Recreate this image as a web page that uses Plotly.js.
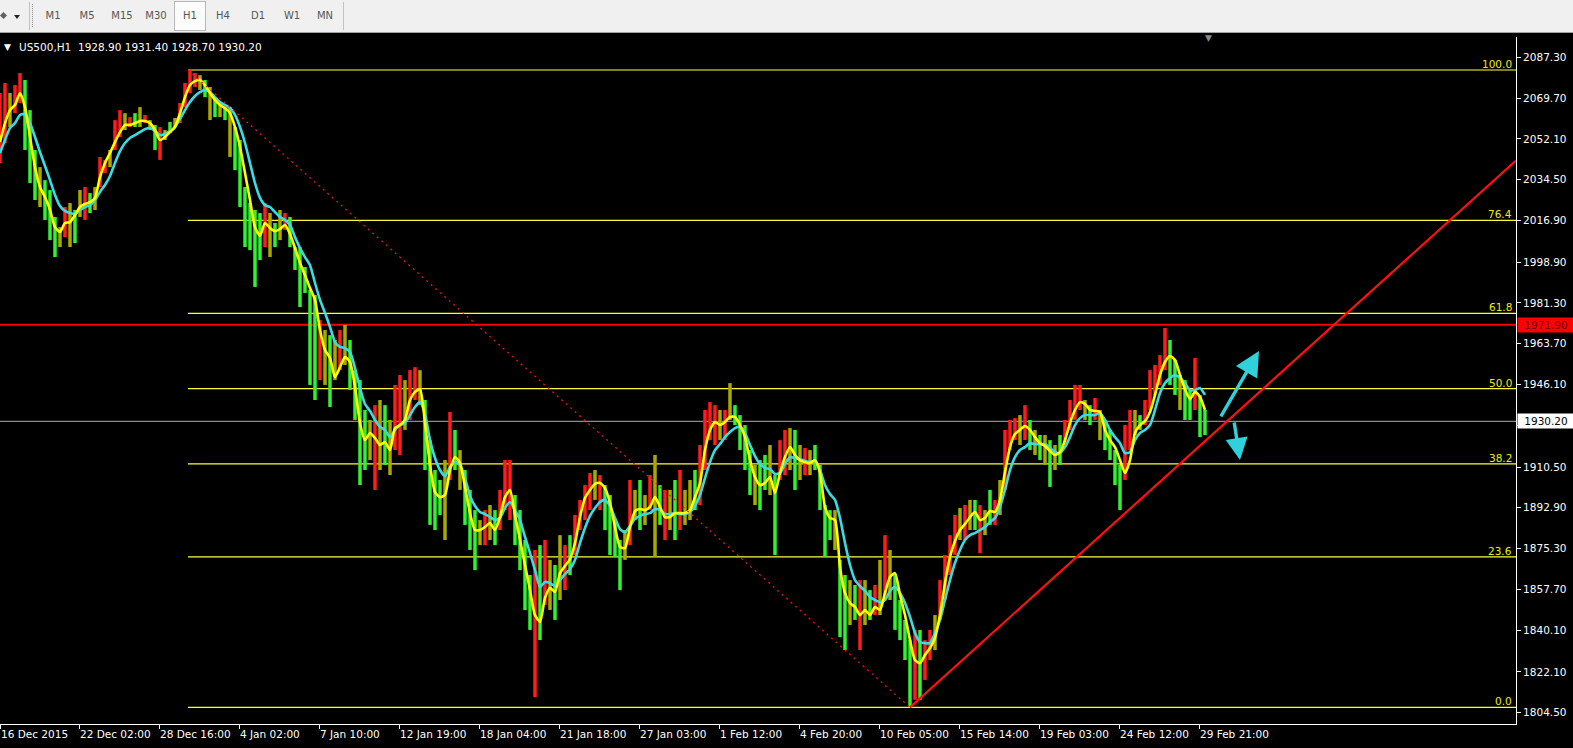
<!DOCTYPE html>
<html>
<head>
<meta charset="utf-8">
<title>US500,H1</title>
<script src="https://cdn.plot.ly/plotly-3.0.1.min.js"></script>
<style>
  html, body { margin:0; padding:0; width:1573px; height:748px; overflow:hidden; background:#000; }
  #toolbar { position:absolute; left:0; top:0; width:1573px; height:32px; background:#f0f0f0;
             border-bottom:1px solid #a0a0a0; font-family:"DejaVu Sans", sans-serif; font-size:10px; color:#555; }
  #toolbar .tf { position:absolute; top:10px; transform:translateX(-50%); white-space:nowrap; }
  #toolbar .active { position:absolute; left:174px; top:1px; width:30px; height:28px; background:#fbfbfb; border:1px solid #b8b8b8; }
  #toolbar .sep { position:absolute; top:2px; width:1px; height:28px; background:#c2c2c2; }
  #toolbar .grip { position:absolute; left:32px; top:4px; width:1px; height:24px;
                   background-image:linear-gradient(#8c8c8c 50%, transparent 50%); background-size:1px 2px; }
  #toolbar .icon { position:absolute; left:1px; top:13px; width:5px; height:5px; background:#606060; transform:rotate(45deg); }
  #toolbar .drop { position:absolute; left:14px; top:15px; width:0; height:0;
                   border-left:3px solid transparent; border-right:3px solid transparent; border-top:4px solid #222; }
  #chart { position:absolute; left:0; top:33px; width:1573px; height:715px; }
</style>
</head>
<body>
<div id="toolbar">
  <div class="icon"></div>
  <div class="drop"></div>
  <div class="sep" style="left:29px"></div>
  <div class="grip"></div>
  <div class="active"></div>
  <div class="sep" style="left:343px"></div>
</div>
<div id="chart"></div>
<script>
// ---- timeframe buttons ----
const TIMEFRAMES = ['M1', 'M5', 'M15', 'M30', 'H1', 'H4', 'D1', 'W1', 'MN'];
const TF_CENTERS = [53, 87, 122, 156, 190, 223, 258, 292, 325];
const bar = document.getElementById('toolbar');
TIMEFRAMES.forEach((t, i) => {
  const s = document.createElement('span');
  s.className = 'tf';
  s.style.left = TF_CENTERS[i] + 'px';
  s.textContent = t;
  bar.appendChild(s);
});

// ---- price data: one sample every 5 hourly bars ----
const STEP = 5;
const HIGH = [
  2071.9,2076.2,2071.9,2075.3,2080.5,2077.5,2064.5,2047.3,2039.9,2034.3,
  2030.0,2018.4,2014.0,2022.7,2024.4,2021.4,2030.0,2031.3,2028.7,2031.3,
  2044.3,2043.0,2047.3,2060.2,2064.5,2063.2,2061.5,2063.2,2065.8,2062.4,
  2060.2,2058.1,2057.2,2055.9,2059.4,2061.1,2067.6,2076.2,2081.8,2080.5,
  2079.6,2077.5,2074.5,2068.9,2067.6,2065.8,2065.8,2057.2,2051.6,2031.3,
  2024.4,2021.4,2020.1,2024.4,2020.1,2015.8,2021.4,2020.1,2018.4,2005.4,
  2005.4,1996.8,1986.9,1984.7,1973.9,1969.6,1967.4,1965.3,1969.6,1971.8,
  1965.3,1952.3,1948.0,1935.1,1930.8,1937.2,1939.4,1937.2,1930.8,1945.9,
  1950.2,1948.0,1952.3,1953.6,1952.3,1939.4,1922.1,1909.2,1904.9,1913.5,
  1934.2,1926.5,1917.8,1909.2,1900.6,1891.9,1887.6,1891.9,1894.1,1891.9,
  1900.6,1913.5,1913.5,1898.4,1891.9,1879.0,1863.9,1874.7,1876.8,1879.0,
  1870.4,1868.2,1881.1,1876.8,1881.1,1889.8,1896.3,1902.7,1907.9,1909.2,
  1907.0,1902.7,1898.4,1887.6,1879.0,1883.3,1904.9,1900.6,1904.9,1898.4,
  1907.0,1915.7,1902.7,1900.6,1900.6,1904.9,1909.2,1900.6,1904.9,1909.2,
  1920.0,1935.1,1938.5,1937.2,1935.1,1935.1,1946.7,1937.2,1932.9,1928.6,
  1917.8,1911.4,1913.5,1915.7,1920.0,1907.0,1922.1,1926.5,1927.3,1926.5,
  1920.0,1918.7,1917.8,1920.0,1911.4,1894.1,1891.9,1891.9,1870.4,1863.9,
  1861.7,1859.6,1861.7,1861.7,1857.4,1859.6,1870.4,1881.1,1874.7,1863.9,
  1853.1,1844.5,1835.8,1840.2,1840.2,1835.8,1840.2,1846.6,1861.7,1872.5,
  1881.1,1889.8,1892.8,1894.1,1896.3,1896.3,1894.1,1891.9,1900.6,1896.3,
  1904.9,1926.5,1930.8,1931.6,1932.9,1937.2,1930.8,1926.5,1924.3,1924.3,
  1922.1,1920.0,1924.3,1930.8,1939.4,1945.9,1945.9,1939.4,1937.2,1940.3,
  1935.1,1930.8,1926.5,1917.8,1911.4,1928.6,1935.1,1935.1,1932.9,1939.4,
  1952.3,1954.5,1958.8,1970.5,1965.3,1956.7,1950.2,1948.0,1943.7,1957.5,
  1941.6,1935.1
];
const LOW = [
  2041.7,2050.3,2057.2,2063.2,2067.6,2047.3,2033.0,2025.7,2022.7,2017.1,
  2008.4,2001.1,2005.4,2009.7,2005.4,2007.1,2018.4,2017.1,2020.1,2021.4,
  2031.3,2037.4,2039.9,2047.3,2052.9,2055.9,2057.2,2057.2,2057.2,2058.9,
  2055.9,2047.3,2043.0,2051.6,2054.6,2057.2,2058.9,2065.8,2071.9,2074.5,
  2073.2,2070.1,2060.2,2061.5,2061.5,2060.2,2044.3,2038.6,2022.7,2005.4,
  2004.1,1988.2,1999.8,2005.4,2001.1,2005.4,2008.4,2012.8,2005.4,1995.5,
  1979.5,1985.6,1945.9,1939.4,1948.0,1945.9,1936.4,1948.0,1952.3,1954.5,
  1943.7,1930.8,1902.7,1909.2,1913.5,1900.6,1909.2,1911.4,1907.0,1917.8,
  1915.7,1926.5,1930.8,1939.4,1937.2,1909.2,1885.5,1883.3,1889.8,1879.0,
  1904.9,1909.2,1900.6,1885.5,1874.7,1866.0,1876.8,1876.8,1879.0,1876.8,
  1883.3,1891.9,1887.6,1876.8,1866.0,1848.8,1840.2,1811.2,1835.8,1851.0,
  1848.8,1844.5,1853.1,1857.4,1863.9,1872.5,1883.3,1887.6,1891.9,1896.3,
  1891.9,1883.3,1872.5,1871.7,1857.4,1870.4,1876.8,1887.6,1883.3,1885.5,
  1891.9,1871.7,1885.5,1879.0,1883.3,1879.0,1883.3,1885.5,1887.6,1891.9,
  1894.1,1909.2,1922.1,1920.0,1922.1,1922.1,1930.8,1928.6,1917.8,1909.2,
  1898.4,1894.1,1891.9,1900.6,1898.4,1872.5,1904.9,1907.0,1909.2,1900.6,
  1904.9,1907.0,1907.0,1909.2,1891.9,1871.7,1879.0,1874.7,1837.1,1831.5,
  1842.3,1844.5,1831.5,1842.3,1844.5,1846.6,1846.6,1855.3,1853.1,1840.2,
  1835.8,1827.2,1806.8,1810.0,1810.0,1818.6,1827.2,1831.5,1844.5,1853.1,
  1863.9,1872.5,1879.0,1879.0,1883.3,1883.3,1873.4,1881.1,1885.5,1885.5,
  1889.8,1900.6,1917.8,1922.1,1920.0,1922.1,1917.8,1915.7,1913.5,1911.4,
  1901.9,1909.2,1911.4,1920.0,1926.5,1930.8,1935.1,1930.8,1928.6,1930.8,
  1922.1,1917.8,1913.5,1902.7,1891.9,1904.9,1917.8,1924.3,1926.5,1928.6,
  1935.1,1941.6,1945.9,1952.3,1945.9,1941.6,1935.1,1930.8,1930.8,1935.1,
  1923.4,1924.3
];
// r = rising bar, g = falling bar, o = mixed/flat cluster
const BAR_DIR =
  'rrorr' + 'gggoggg' + 'orogorgo' + 'rrorr' + 'orgorogrogo' + 'rrrro' + 'gogogog' + 'ggggg' +
  'rogorg' + 'ggggg' + 'rogorog' + 'gggo' + 'rogo' + 'rrorro' + 'ggggo' + 'rgo' + 'ggg' + 'orogr' +
  'rr' + 'ggggrg' + 'rogorgr' + 'rrror' + 'ggggo' + 'rogor' + 'ogrogroogr' + 'rrrorog' + 'gggoggog' +
  'rrogorog' + 'gggo' + 'ggogrogro' + 'rog' + 'gggr' + 'grro' + 'rrrrorogrogro' + 'rrror' + 'gogogog' +
  'rrrr' + 'ogro' + 'gggg' + 'rrogr' + 'rrrr' + 'ggogg' + 'rgg';

// fast (yellow) and slow (cyan) moving averages
const MA_FAST = [
  2050.7,2058.9,2064.5,2066.7,2071.9,2065.8,2052.9,2039.9,2031.3,2027.0,
  2021.4,2014.0,2011.9,2015.8,2016.2,2019.2,2022.7,2024.0,2024.8,2026.6,
  2035.6,2041.7,2046.0,2050.7,2055.0,2058.1,2058.1,2058.9,2059.8,2059.8,
  2058.9,2055.9,2051.6,2052.9,2055.0,2057.2,2063.2,2070.1,2075.3,2077.0,
  2077.5,2075.3,2071.9,2068.9,2066.7,2065.4,2063.2,2057.2,2048.6,2037.4,
  2025.7,2014.0,2010.2,2015.8,2013.6,2012.3,2013.2,2014.9,2011.0,2005.0,
  1998.5,1993.3,1987.7,1982.6,1969.6,1961.0,1957.5,1949.3,1953.6,1957.9,
  1955.8,1945.0,1929.5,1922.1,1925.2,1923.0,1920.0,1921.3,1917.8,1927.3,
  1928.6,1930.8,1939.4,1942.9,1944.1,1929.5,1911.4,1899.7,1897.5,1898.4,
  1909.2,1914.8,1912.2,1901.9,1890.6,1883.3,1883.3,1884.6,1886.3,1883.3,
  1888.9,1897.5,1900.6,1889.8,1879.0,1868.2,1857.4,1846.6,1843.6,1854.0,
  1858.3,1856.6,1864.7,1867.8,1870.8,1877.7,1888.9,1897.1,1900.6,1903.2,
  1903.6,1901.4,1895.0,1884.6,1876.0,1875.5,1884.6,1891.5,1892.4,1891.9,
  1893.3,1897.5,1893.3,1888.9,1888.9,1890.6,1890.6,1890.6,1891.9,1897.5,
  1903.6,1917.8,1926.5,1929.9,1928.6,1929.9,1932.1,1932.1,1928.6,1923.4,
  1913.5,1906.2,1902.7,1903.6,1906.2,1899.3,1907.9,1914.8,1919.1,1915.7,
  1913.5,1912.6,1912.2,1913.5,1907.9,1893.3,1888.5,1887.6,1867.3,1856.1,
  1851.8,1850.1,1846.6,1848.8,1846.6,1850.1,1848.8,1856.1,1863.0,1864.7,
  1855.3,1846.6,1835.8,1827.2,1825.9,1829.4,1832.4,1836.7,1846.6,1860.4,
  1871.7,1878.6,1883.3,1885.9,1888.9,1891.1,1887.6,1888.5,1891.5,1891.1,
  1896.3,1908.3,1919.1,1924.7,1926.5,1928.2,1926.5,1923.4,1920.8,1919.6,
  1917.4,1915.7,1916.9,1922.1,1929.5,1935.1,1938.5,1937.7,1935.1,1934.7,
  1934.2,1926.5,1922.1,1919.1,1913.5,1907.9,1913.5,1925.2,1928.6,1930.3,
  1934.2,1941.6,1950.2,1955.8,1958.4,1956.7,1950.2,1944.1,1939.8,1942.9,
  1940.7,1935.1
];
const MA_SLOW = [
  2046.0,2051.6,2056.8,2058.9,2062.4,2062.8,2058.9,2052.9,2046.4,2040.4,
  2034.3,2027.9,2023.1,2021.0,2020.1,2019.7,2021.4,2022.7,2023.5,2025.7,
  2029.2,2032.2,2036.1,2041.7,2046.8,2050.3,2052.5,2053.7,2055.0,2056.3,
  2056.8,2055.5,2053.7,2054.2,2055.5,2057.2,2060.7,2064.5,2068.0,2070.6,
  2072.3,2073.2,2072.3,2070.1,2068.0,2066.7,2065.4,2062.4,2057.2,2050.3,
  2041.7,2033.0,2026.6,2023.5,2022.7,2020.5,2018.4,2017.1,2014.9,2009.7,
  2005.0,2001.1,1997.6,1989.9,1982.6,1977.0,1970.9,1964.4,1962.3,1961.8,
  1960.1,1953.2,1944.6,1937.7,1934.7,1930.8,1927.8,1926.5,1923.4,1926.5,
  1928.6,1929.5,1932.9,1936.4,1938.5,1933.4,1922.1,1914.4,1909.2,1906.6,
  1910.5,1912.6,1911.4,1905.7,1898.0,1893.7,1891.1,1890.2,1888.9,1887.6,
  1888.5,1892.8,1895.4,1891.9,1887.6,1880.3,1873.4,1866.0,1858.7,1860.9,
  1860.4,1859.1,1861.7,1864.3,1866.5,1870.4,1877.7,1884.2,1889.4,1892.8,
  1895.4,1896.3,1893.7,1888.5,1883.7,1882.4,1885.0,1888.1,1889.4,1890.2,
  1890.6,1892.4,1891.9,1890.2,1890.2,1890.6,1890.2,1890.2,1891.1,1893.7,
  1898.4,1905.7,1912.6,1917.8,1920.4,1923.4,1925.6,1927.3,1927.8,1925.2,
  1920.0,1915.2,1911.8,1910.1,1909.6,1907.5,1907.9,1911.8,1914.8,1914.4,
  1913.9,1913.1,1912.6,1913.1,1909.2,1902.7,1898.8,1896.3,1888.5,1877.7,
  1868.2,1861.7,1859.1,1857.0,1854.4,1853.1,1852.2,1853.1,1857.0,1858.7,
  1856.1,1851.8,1845.8,1838.9,1835.0,1834.5,1834.5,1838.9,1844.5,1853.1,
  1861.7,1869.1,1874.7,1879.0,1881.1,1882.0,1883.3,1884.6,1886.8,1888.5,
  1893.3,1900.6,1909.2,1914.8,1917.8,1919.1,1920.8,1920.4,1920.4,1920.4,
  1918.7,1917.0,1916.5,1919.1,1923.4,1928.6,1931.6,1932.9,1932.9,1932.9,
  1933.8,1930.8,1926.5,1923.4,1920.8,1916.5,1916.9,1922.1,1925.2,1926.5,
  1928.6,1935.1,1942.4,1946.7,1948.9,1950.2,1948.9,1946.7,1943.7,1943.7,
  1944.6,1941.6
];

// ---- axes ----
// the 1928.50 level sits under the current-price tag, so its caption stays blank
const PRICE_TICKS = [2087.30, 2069.70, 2052.10, 2034.50, 2016.90, 1998.90, 1981.30, 1963.70,
                     1946.10, 1928.50, 1910.50, 1892.90, 1875.30, 1857.70, 1840.10, 1822.10, 1804.50];
const HIDDEN_TICK = 1928.50;
const TIME_TICK_BARS = [0, 79, 159, 239, 319, 399, 479, 559, 639, 719, 799, 879, 959, 1039, 1119, 1199];
const TIME_TICK_TEXT = ['16 Dec 2015', '22 Dec 02:00', '28 Dec 16:00', '4 Jan 02:00', '7 Jan 10:00',
  '12 Jan 19:00', '18 Jan 04:00', '21 Jan 18:00', '27 Jan 03:00', '1 Feb 12:00', '4 Feb 20:00',
  '10 Feb 05:00', '15 Feb 14:00', '19 Feb 03:00', '24 Feb 12:00', '29 Feb 21:00'];

// ---- chart objects ----
const QUOTE = {symbol: 'US500,H1', open: 1928.90, high: 1931.40, low: 1928.70, close: 1930.20};
const RESIST_LEVEL = 1971.90;
const FIB_BARS = [188, 910];          // swing high bar, swing low bar
const FIB_PRICES = [2081.8, 1806.8];  // swing high, swing low
const FIB_RATIOS = [0, 23.6, 38.2, 50.0, 61.8, 76.4, 100.0];
const TREND_BARS = [910, 1516];
const TREND_PRICES = [1806.8, 2042.7];
const ARROW_UP = {bar: 1259, price: 1960.6};
const ARROW_DOWN = {bar: 1240, price: 1913.5};
const SHIFT_MARK_BAR = 1208;

const FONT = 'DejaVu Sans, Verdana, sans-serif';
const X_RANGE = [0, 1516];
const Y_RANGE = [1799.6, 2096.05];

// bar segments grouped by direction colour
const DIR_COLORS = {r: '#ff1c1c', g: '#33f033', o: '#a8a800'};
const barTraces = Object.keys(DIR_COLORS).map(k => {
  const xs = [], ys = [];
  HIGH.forEach((h, i) => {
    if ((BAR_DIR[i] || 'o') !== k) return;
    const x = i * STEP;
    xs.push(x, x, null);
    ys.push(LOW[i], h, null);
  });
  return {type: 'scatter', mode: 'lines', x: xs, y: ys, hoverinfo: 'skip',
          line: {color: DIR_COLORS[k], width: 3.5}, connectgaps: false};
});
const maX = MA_FAST.map((_, i) => i * STEP);
const maTraces = [
  {type: 'scatter', mode: 'lines', x: maX, y: MA_SLOW, hoverinfo: 'skip',
   line: {color: '#3adce4', width: 2.6, shape: 'spline', smoothing: 0.6}},
  {type: 'scatter', mode: 'lines', x: maX, y: MA_FAST, hoverinfo: 'skip',
   line: {color: '#ffff00', width: 2.6, shape: 'spline', smoothing: 0.6}}
];

const fibHigh = FIB_PRICES[0], fibLow = FIB_PRICES[1];
const fibLevels = FIB_RATIOS.map(r => ({r, price: fibLow + (fibHigh - fibLow) * r / 100}));

const shapes = [];
fibLevels.forEach(l => shapes.push({
  type: 'line', layer: 'below', xref: 'x', yref: 'y',
  x0: FIB_BARS[0], x1: X_RANGE[1], y0: l.price, y1: l.price,
  line: {color: '#ffff3a', width: 1.2}
}));
shapes.push({type: 'line', layer: 'below', xref: 'paper', yref: 'y', x0: 0, x1: 1,
  y0: QUOTE.close, y1: QUOTE.close, line: {color: '#8a8a8a', width: 1.2}});
shapes.push({type: 'line', layer: 'below', xref: 'paper', yref: 'y', x0: 0, x1: 1,
  y0: RESIST_LEVEL, y1: RESIST_LEVEL, line: {color: '#ff0000', width: 2}});
shapes.push({type: 'line', layer: 'above', xref: 'x', yref: 'y',
  x0: FIB_BARS[0], y0: FIB_PRICES[0], x1: FIB_BARS[1], y1: FIB_PRICES[1],
  line: {color: '#e01a1a', width: 1.3, dash: '2px,4px'}});
shapes.push({type: 'line', layer: 'above', xref: 'x', yref: 'y',
  x0: TREND_BARS[0], y0: TREND_PRICES[0], x1: TREND_BARS[1], y1: TREND_PRICES[1],
  line: {color: '#ff1010', width: 2.2}});

const annotations = [];
// symbol header
annotations.push({xref: 'paper', yref: 'paper', x: 0, y: 1, xanchor: 'left', yanchor: 'top',
  xshift: 2, yshift: -3, showarrow: false, text: '▼', font: {family: FONT, size: 9, color: '#ffffff'}});
annotations.push({xref: 'paper', yref: 'paper', x: 0, y: 1, xanchor: 'left', yanchor: 'top',
  xshift: 17, yshift: -2, showarrow: false,
  text: QUOTE.symbol + '\u00a0\u00a0' + [QUOTE.open, QUOTE.high, QUOTE.low, QUOTE.close].map(v => v.toFixed(2)).join(' '),
  font: {family: FONT, size: 10.5, color: '#ffffff'}});
// fibonacci level captions
fibLevels.forEach(l => annotations.push({
  xref: 'paper', yref: 'y', x: 1, y: l.price, xanchor: 'right', yanchor: 'bottom',
  xshift: -2, yshift: -2, showarrow: false, text: l.r.toFixed(1),
  font: {family: FONT, size: 10.5, color: '#ecec10'}
}));
// price tags on the scale
annotations.push({xref: 'paper', yref: 'y', x: 1, y: RESIST_LEVEL, xanchor: 'left', yanchor: 'middle',
  xshift: 1, showarrow: false, text: RESIST_LEVEL.toFixed(2), bgcolor: '#ff0000', width: 56, height: 14,
  borderpad: 0, align: 'center', font: {family: FONT, size: 10.5, color: '#6a0000'}});
annotations.push({xref: 'paper', yref: 'y', x: 1, y: QUOTE.close, xanchor: 'left', yanchor: 'middle',
  xshift: 1, showarrow: false, text: QUOTE.close.toFixed(2), bgcolor: '#ffffff', width: 56, height: 14,
  borderpad: 0, align: 'center', font: {family: FONT, size: 10.5, color: '#000000'}});
// direction arrows
annotations.push({xref: 'x', yref: 'y', x: ARROW_UP.bar, y: ARROW_UP.price, ax: -39, ay: 67,
  showarrow: true, arrowhead: 2, arrowsize: 1.45, arrowwidth: 3.4, arrowcolor: '#2fd2da', text: ''});
annotations.push({xref: 'x', yref: 'y', x: ARROW_DOWN.bar, y: ARROW_DOWN.price, ax: -6, ay: -39,
  showarrow: true, arrowhead: 2, arrowsize: 1.3, arrowwidth: 3.4, arrowcolor: '#2fd2da', text: ''});
// chart shift marker
annotations.push({xref: 'x', yref: 'paper', x: SHIFT_MARK_BAR, y: 1, yanchor: 'middle', yshift: -1,
  showarrow: false, text: '▼', font: {family: FONT, size: 9, color: '#8a8a8a'}});

const layout = {
  width: 1573, height: 715,
  margin: {l: 0, r: 57, t: 4, b: 24, pad: 0},
  paper_bgcolor: '#000000', plot_bgcolor: '#000000',
  showlegend: false,
  font: {family: FONT, size: 10.5, color: '#ffffff'},
  xaxis: {range: X_RANGE, showgrid: false, zeroline: false, showline: true, linecolor: '#ffffff',
          linewidth: 1, ticks: 'outside', ticklen: 4, tickwidth: 1, tickcolor: '#ffffff',
          tickmode: 'array', tickvals: TIME_TICK_BARS, ticktext: TIME_TICK_TEXT,
          ticklabelposition: 'outside right', tickfont: {family: FONT, size: 10.5, color: '#ffffff'},
          fixedrange: true},
  yaxis: {range: Y_RANGE, side: 'right', showgrid: false, zeroline: false, showline: true,
          linecolor: '#ffffff', linewidth: 1, ticks: 'outside', ticklen: 4, tickwidth: 1,
          tickcolor: '#ffffff', tickmode: 'array', tickvals: PRICE_TICKS,
          ticktext: PRICE_TICKS.map(v => (v === HIDDEN_TICK ? '' : v.toFixed(2))),
          tickfont: {family: FONT, size: 10.5, color: '#ffffff'}, fixedrange: true},
  shapes, annotations
};

Plotly.newPlot('chart', [...barTraces, ...maTraces], layout, {staticPlot: true, displayModeBar: false});
</script>
</body>
</html>
